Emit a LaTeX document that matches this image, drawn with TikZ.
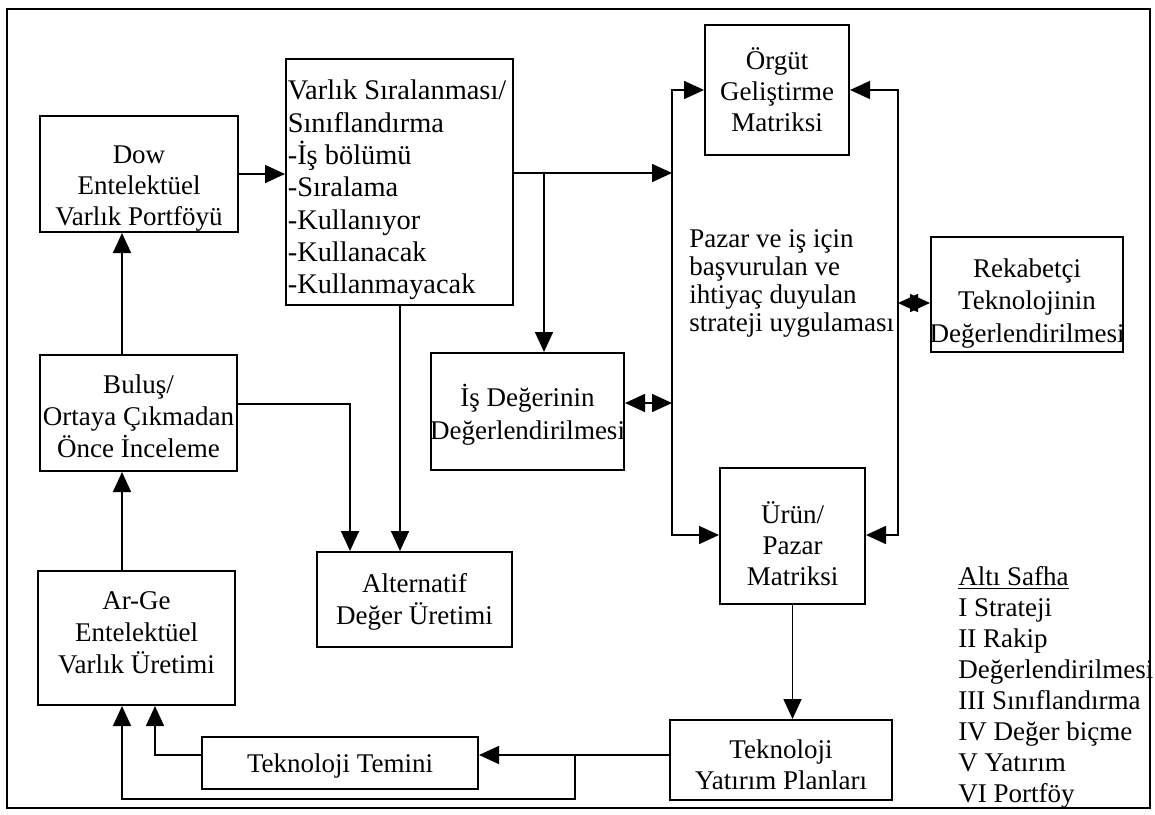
\documentclass[tikz,border=0pt]{standalone}
\usepackage{fontspec}
\setmainfont{Liberation Serif}
\usetikzlibrary{arrows.meta}
\begin{document}
\begin{tikzpicture}[x=0.5pt,y=-0.5pt,
  box/.style={draw, line width=1pt, inner sep=0pt},
  txt/.style={inner sep=0pt, align=center, font=\fontsize{13.5}{15.5}\selectfont},
  plain/.style={inner sep=0pt, align=left, font=\fontsize{13.5}{14}\selectfont},
  link/.style={line width=0.8pt},
  tip/.style={-{Triangle[length=10pt,width=9pt]}},
  tips/.style={{Triangle[length=10pt,width=9pt]}-{Triangle[length=10pt,width=9pt]}}]
\useasboundingbox (0,0) rectangle (1155,814);
\draw[line width=1pt] (7,9) rectangle (1150,808);

% boxes (frames) and their texts
\node[box, minimum width=99pt, minimum height=58pt] (dow) at (139,174) {};
\node[txt] (dow-t) at ([yshift=-7.5pt]dow.center) {Dow\\Entelektüel\\Varlık Portföyü};

\node[box, minimum width=113.5pt, minimum height=123pt] (sira) at (399.5,182) {};
\node[txt, align=left, anchor=west, font=\fontsize{14.2}{16.15}\selectfont] (sira-t)
  at ([xshift=1.2pt, yshift=-4pt]sira.west)
  {Varlık Sıralanması/\\Sınıflandırma\\-İş bölümü\\-Sıralama\\-Kullanıyor\\-Kullanacak\\-Kullanmayacak};

\node[box, minimum width=72pt, minimum height=65pt] (orgut) at (777,90) {};
\node[txt] (orgut-t) at (orgut.center) {Örgüt\\Geliştirme\\Matriksi};

\node[box, minimum width=96pt, minimum height=57.5pt] (rek) at (1027,294.5) {};
\node[txt, font=\fontsize{13.5}{16.3}\selectfont] (rek-t) at ([yshift=-4.5pt]rek.center)
  {Rekabetçi\\Teknolojinin\\Değerlendirilmesi};

\node[box, minimum width=96.5pt, minimum height=58.5pt] (is) at (527.5,411.5) {};
\node[txt, font=\fontsize{13.5}{16.5}\selectfont] (is-t) at ([yshift=-1.5pt]is.center)
  {İş Değerinin\\Değerlendirilmesi};

\node[box, minimum width=98.5pt, minimum height=58pt] (bulus) at (138.5,413) {};
\node[txt, font=\fontsize{13.5}{16}\selectfont] (bulus-t) at ([yshift=-1.5pt]bulus.center)
  {Buluş/\\Ortaya Çıkmadan\\Önce İnceleme};

\node[box, minimum width=72.5pt, minimum height=68pt] (urun) at (792.5,536) {};
\node[txt] (urun-t) at ([yshift=-4pt]urun.center) {Ürün/\\Pazar\\Matriksi};

\node[box, minimum width=97.5pt, minimum height=47.5pt] (alt) at (414.5,599.5) {};
\node[txt, font=\fontsize{13.5}{16}\selectfont] (alt-t) at ([yshift=-1pt]alt.center)
  {Alternatif\\Değer Üretimi};

\node[box, minimum width=98.5pt, minimum height=67pt] (arge) at (136.5,638) {};
\node[txt, font=\fontsize{13.5}{16}\selectfont] (arge-t) at ([yshift=2.5pt]arge.center)
  {Ar-Ge\\Entelektüel\\Varlık Üretimi};

\node[box, minimum width=138pt, minimum height=26pt] (tt) at (340,763) {};
\node[txt] (tt-t) at ([yshift=-1.5pt]tt.center) {Teknoloji Temini};

\node[box, minimum width=111pt, minimum height=40pt] (yat) at (781,760) {};
\node[txt] (yat-t) at ([yshift=-2.5pt]yat.center) {Teknoloji\\Yatırım Planları};

% free text
\node[plain, anchor=west] (strat) at (689,283)
  {Pazar ve iş için\\başvurulan ve\\ihtiyaç duyulan\\strateji uygulaması};
\node[plain, anchor=west, font=\fontsize{13.5}{15.5}\selectfont] (safha) at (958,687)
  {\underline{Altı Safha}\\I Strateji\\II Rakip\\Değerlendirilmesi\\III Sınıflandırma\\IV Değer biçme\\V Yatırım\\VI Portföy};

% routing points
\coordinate (lvtop) at (672,90);
\coordinate (lvmid) at (672,173);
\coordinate (lvis) at (672,403);
\coordinate (lvbot) at (672,535);
\coordinate (rvtop) at (898,90);
\coordinate (rvrek) at (898,303);
\coordinate (rvbot) at (898,535);
\coordinate (brsira) at (544,173);
\coordinate (xa) at (122,0);
\coordinate (xb) at (155,0);
\coordinate (xalt) at (350,0);
\coordinate (xsira) at (400,0);
\coordinate (ybul) at (0,404);
\coordinate (ln) at (0,755);
\coordinate (brtt) at (575,755);
\coordinate (ybot) at (0,799);

% connectors
\draw[link, tip] (dow.east) -- (dow.east -| sira.west);
\draw[link, tip] (sira.east |- lvmid) -- (lvmid);
\draw[link, tip] (brsira) -- (brsira |- is.north);
\draw[link, tips] (orgut.west |- lvtop) -- (lvtop) -- (lvbot) -- (urun.west |- lvbot);
\draw[link, tips] (orgut.east |- rvtop) -- (rvtop) -- (rvbot) -- (urun.east |- rvbot);
\draw[link, tips] (is.east |- lvis) -- (lvis);
\draw[link, tips] (rvrek) -- (rvrek -| rek.west);
\draw[link, tip] (bulus.north -| xa) -- (dow.south -| xa);
\draw[link, tip] (arge.north -| xa) -- (bulus.south -| xa);
\draw[link, tip] (bulus.east |- ybul) -- (xalt |- ybul) -- (xalt |- alt.north);
\draw[link, tip] (sira.south -| xsira) -- (alt.north -| xsira);
\draw[link, tip] (urun.south) -- (urun.south |- yat.north);
\draw[link, tip] (yat.west |- ln) -- (tt.east |- ln);
\draw[link, tip] (brtt) -- (brtt |- ybot) -- (xa |- ybot) -- (arge.south -| xa);
\draw[link, tip] (tt.west |- ln) -- (xb |- ln) -- (arge.south -| xb);
\end{tikzpicture}
\end{document}
